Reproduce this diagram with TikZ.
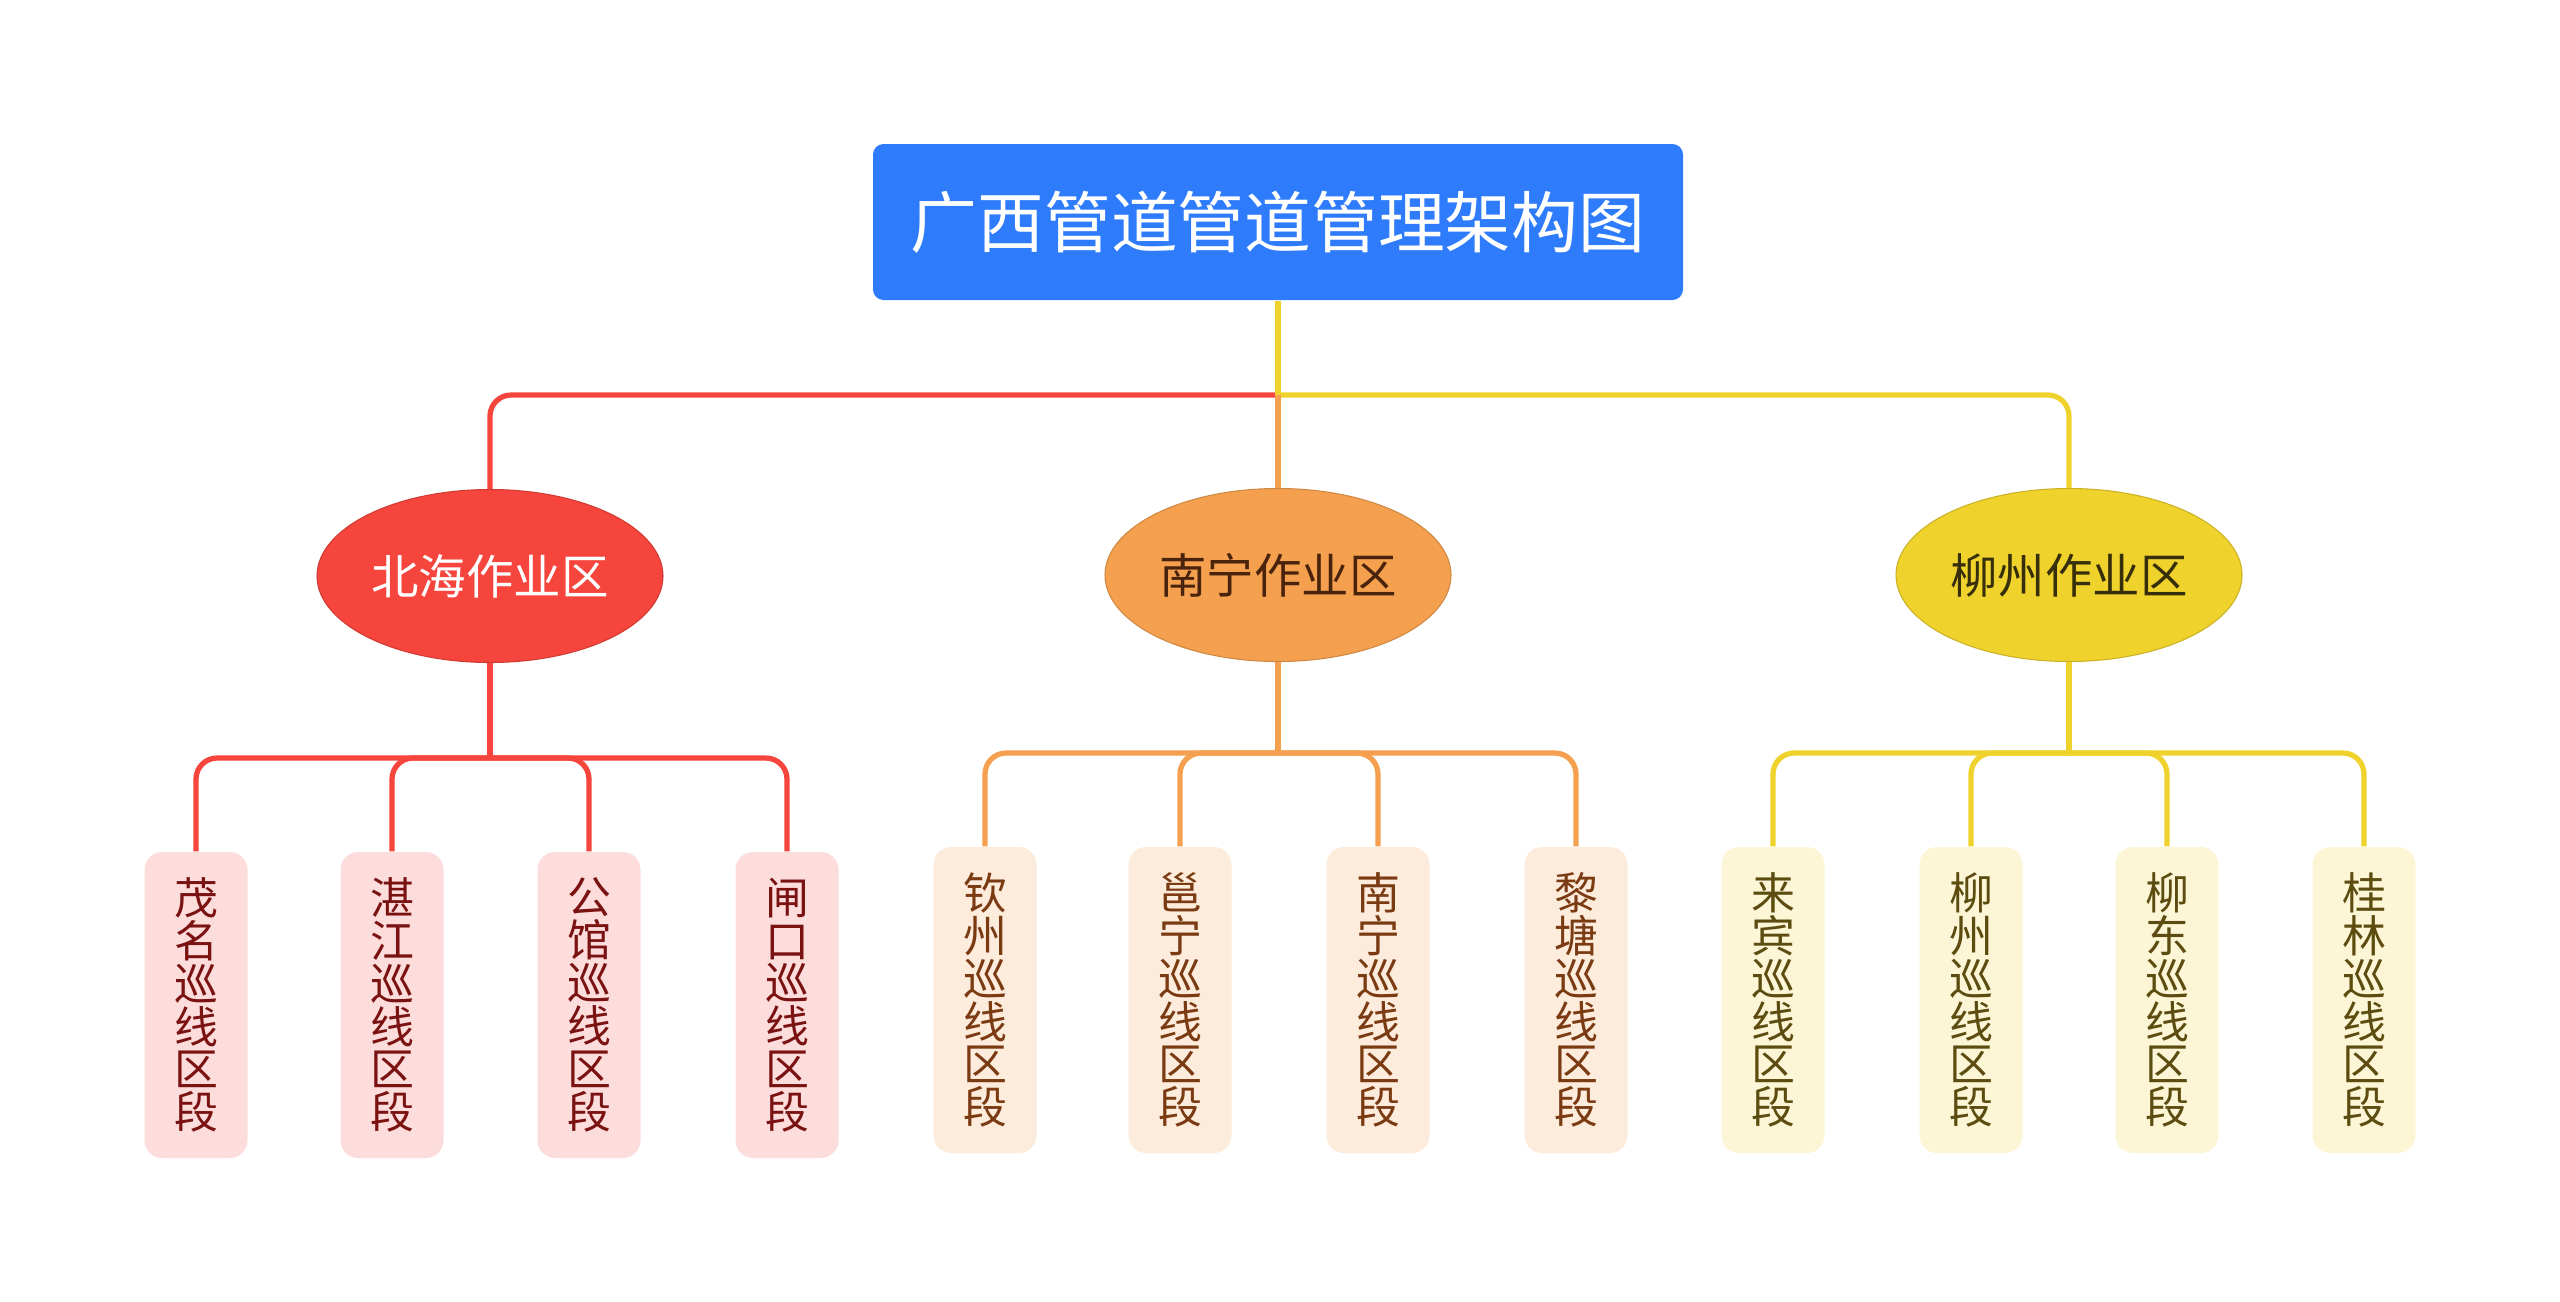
\documentclass[tikz,border=0pt]{standalone}
\usepackage{fontspec}
\setmainfont{Noto Sans CJK SC}
\usetikzlibrary{positioning, shapes.geometric}
\definecolor{RootBlue}{HTML}{2E7BFB}
\definecolor{ZoneRed}{HTML}{F5453D}
\definecolor{ZoneOrange}{HTML}{F4A04E}
\definecolor{ZoneYellow}{HTML}{EFD22B}
\definecolor{LeafRed}{HTML}{FDDCDC}
\definecolor{LeafOrange}{HTML}{FDECDC}
\definecolor{LeafYellow}{HTML}{FCF6D6}
\definecolor{TextRed}{HTML}{7A1212}
\definecolor{TextOrange}{HTML}{7A3A12}
\definecolor{TextYellow}{HTML}{5C4C10}
\tikzset{
  rootbox/.style={fill=RootBlue, rounded corners=3pt, text=white, inner sep=0pt,
    minimum width=8.1cm, minimum height=1.56cm, font=\fontsize{19}{22}\selectfont},
  zone/.style={ellipse, inner sep=0pt, minimum width=3.46cm, minimum height=1.73cm,
    font=\fontsize{13.5}{16}\selectfont},
  leaf/.style={rounded corners=5pt, align=center, inner sep=0pt,
    minimum width=1.03cm, minimum height=3.06cm, font=\fontsize{12.5}{12.2}\selectfont},
  rleaf/.style={leaf, fill=LeafRed, text=TextRed},
  oleaf/.style={leaf, fill=LeafOrange, text=TextOrange},
  yleaf/.style={leaf, fill=LeafYellow, text=TextYellow},
  link/.style={line width=1.5pt, rounded corners=6pt},
  rlink/.style={link, draw=ZoneRed},
  olink/.style={link, draw=ZoneOrange},
  ylink/.style={link, draw=ZoneYellow},
}
\begin{document}
\begin{tikzpicture}
    \fill[white] (0,0) rectangle (25.6,-13.01);
    \useasboundingbox (0,0) rectangle (25.6,-13.01);
    % top level
    \node[rootbox] (root) at (12.78,-2.22) {广西管道管道管理架构图};
    \node[zone, fill=ZoneRed, draw=ZoneRed!85!black, line width=0.3pt, text=white] (bh) at (4.90,-5.76) {北海作业区};
    \node[zone, fill=ZoneOrange, draw=ZoneOrange!85!black, line width=0.3pt, text=TextOrange!60!black] (nn) at (12.78,-5.75) {南宁作业区};
    \node[zone, fill=ZoneYellow, draw=ZoneYellow!85!black, line width=0.3pt, text=TextYellow!60!black] (lz) at (20.69,-5.75) {柳州作业区};
    \coordinate (jn) at (12.78,-3.95);
    \draw[rlink] (jn) -| (bh.north);
    \draw[ylink] (jn) -| (lz.north);
    \draw[olink] (jn) -- (nn.north);
    \draw[ylink] (root.south) -- (jn);
    % leaves
    \node[rleaf] (mm) at (1.96,-10.05) {茂\\名\\巡\\线\\区\\段};
    \node[rleaf] (zj) at (3.92,-10.05) {湛\\江\\巡\\线\\区\\段};
    \node[rleaf] (gg) at (5.89,-10.05) {公\\馆\\巡\\线\\区\\段};
    \node[rleaf] (zk) at (7.87,-10.05) {闸\\口\\巡\\线\\区\\段};
    \node[oleaf] (qz) at (9.85,-10.00) {钦\\州\\巡\\线\\区\\段};
    \node[oleaf] (yn) at (11.80,-10.00) {邕\\宁\\巡\\线\\区\\段};
    \node[oleaf] (nnl) at (13.78,-10.00) {南\\宁\\巡\\线\\区\\段};
    \node[oleaf] (lt) at (15.76,-10.00) {黎\\塘\\巡\\线\\区\\段};
    \node[yleaf] (lb) at (17.73,-10.00) {来\\宾\\巡\\线\\区\\段};
    \node[yleaf] (lzl) at (19.71,-10.00) {柳\\州\\巡\\线\\区\\段};
    \node[yleaf] (ld) at (21.67,-10.00) {柳\\东\\巡\\线\\区\\段};
    \node[yleaf] (gl) at (23.64,-10.00) {桂\\林\\巡\\线\\区\\段};
    \coordinate (bhj) at (4.90,-7.58);
    \coordinate (nnj) at (12.78,-7.53);
    \coordinate (lzj) at (20.69,-7.53);
    \draw[rlink] (bh.south) -- (bhj);
    \draw[rlink] (bhj) -| (mm.north);
    \draw[rlink] (bhj) -| (zj.north);
    \draw[rlink] (bhj) -| (gg.north);
    \draw[rlink] (bhj) -| (zk.north);
    \draw[olink] (nn.south) -- (nnj);
    \draw[olink] (nnj) -| (qz.north);
    \draw[olink] (nnj) -| (yn.north);
    \draw[olink] (nnj) -| (nnl.north);
    \draw[olink] (nnj) -| (lt.north);
    \draw[ylink] (lz.south) -- (lzj);
    \draw[ylink] (lzj) -| (lb.north);
    \draw[ylink] (lzj) -| (lzl.north);
    \draw[ylink] (lzj) -| (ld.north);
    \draw[ylink] (lzj) -| (gl.north);
  \end{tikzpicture}
\end{document}
